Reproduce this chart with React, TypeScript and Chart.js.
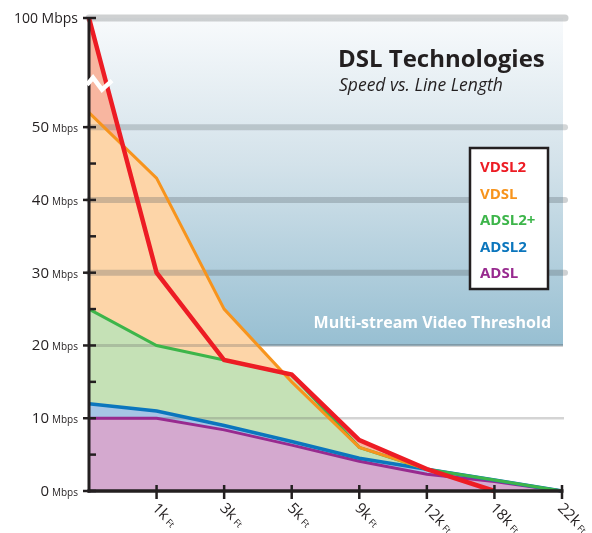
import React, { useEffect, useRef } from 'react';
import { Chart, registerables } from 'chart.js';

Chart.register(...registerables);

// ---- data ----
const categories = ['0', '1k', '3k', '5k', '9k', '12k', '18k', '22k'];
const vdsl2 = [100, 30, 18, 16, 7, 3, 0, null];
const vdsl = [52, 43, 25, 15, 6, 3, null, null];
const adsl2plus = [25, 20, 18, 16, 6, 3, 1.5, 0];
const adsl2 = [12, 11, 9, 6.8, 4.5, 3, 1.5, 0];
const adsl = [10, 10, 8.4, 6.3, 4.1, 2.3, 1.3, 0];
const seriesNames = ['VDSL2', 'VDSL', 'ADSL2+', 'ADSL2', 'ADSL'];
const yMajorTicks = [0, 10, 20, 30, 40, 50, 100];
const yMinorTicks = [5, 15, 25, 35, 45];
const thresholdValue = 20;
const breakValue = 60;
const titleText = 'DSL Technologies';
const subtitleText = 'Speed vs. Line Length';
const thresholdText = 'Multi-stream Video Threshold';

// ---- styles ----
const lineColors = ['#ed1c24', '#f7941d', '#3db54a', '#0b76bd', '#982a8f'];
const fillColors = ['#f8b6a0', '#fdd5a8', '#c5e1b6', '#a6c5e6', '#d4a9cf'];
const lineWidths = [4.5, 3, 3, 3.5, 3];
const FONT = '"Open Sans", Lato, sans-serif';
const INK = '#231f20';

// axis break: linear up to 55, compressed above (100 -> 65)
const compress = (v: number | null) => (v == null ? null : v <= 55 ? v : 55 + (v - 55) * (10 / 45));

export default function App() {
  const ref = useRef<HTMLCanvasElement>(null);

  useEffect(() => {
    const canvas = ref.current;
    if (!canvas) return;
    const seriesData = [vdsl2, vdsl, adsl2plus, adsl2, adsl];

    const lineSets = seriesData.map((d, i) => ({
      label: seriesNames[i],
      data: d.map(compress),
      borderColor: lineColors[i],
      borderWidth: lineWidths[i],
      backgroundColor: 'rgba(0,0,0,0)',
      fill: false,
      pointRadius: 0,
      tension: 0,
      borderJoinStyle: 'miter' as const,
      clip: false as any,
    }));
    const fillOrder = [4, 3, 2, 1, 0];
    const fillSets = fillOrder.map((i) => ({
      label: seriesNames[i] + ' area',
      data: seriesData[i].map(compress),
      borderColor: 'rgba(0,0,0,0)',
      borderWidth: 1,
      backgroundColor: fillColors[i],
      fill: 'origin',
      pointRadius: 0,
      tension: 0,
      clip: false as any,
    }));

    const decor = {
      id: 'decor',
      beforeDatasetsDraw(chart: any) {
        const { ctx, chartArea, scales } = chart;
        const y = scales.y;
        const top = y.getPixelForValue(compress(100));
        const bot = y.getPixelForValue(thresholdValue);
        ctx.save();
        const g = ctx.createLinearGradient(0, top, 0, bot);
        g.addColorStop(0, '#f8fafc');
        g.addColorStop(0.45, '#d3e2ea');
        g.addColorStop(1, '#97bfd2');
        ctx.fillStyle = g;
        ctx.fillRect(chartArea.left, top, chartArea.right - chartArea.left + 1, bot - top);
        ctx.fillStyle = '#7ea2b5';
        ctx.fillRect(chartArea.left, bot - 1, chartArea.right - chartArea.left + 1, 1);
        ctx.restore();
      },
      afterDatasetDraw(chart: any, args: any) {
        if (args.index !== 5) return;
        const { ctx, chartArea, scales } = chart;
        const y = scales.y;
        ctx.save();
        const drawH = (v: number, w: number, color: string, ext: number, cap: CanvasLineCap) => {
          const py = y.getPixelForValue(compress(v));
          ctx.beginPath();
          ctx.lineCap = cap;
          ctx.lineWidth = w;
          ctx.strokeStyle = color;
          ctx.moveTo(chartArea.left, py);
          ctx.lineTo(chartArea.right + ext, py);
          ctx.stroke();
        };
        drawH(100, 7, 'rgba(160,163,166,0.5)', 3, 'round');
        drawH(50, 6, 'rgba(80,90,96,0.25)', 3, 'round');
        drawH(40, 6, 'rgba(80,90,96,0.28)', 3, 'round');
        drawH(30, 6, 'rgba(80,90,96,0.28)', 3, 'round');
        drawH(20, 3, 'rgba(100,100,100,0.28)', 1, 'butt');
        drawH(10, 2.5, 'rgba(100,100,100,0.28)', 2, 'butt');
        ctx.restore();
      },
      afterDatasetsDraw(chart: any) {
        const { ctx, chartArea, scales } = chart;
        const x = scales.x;
        const y = scales.y;
        ctx.save();
        // axes
        ctx.strokeStyle = INK;
        ctx.lineCap = 'butt';
        ctx.lineWidth = 3;
        ctx.beginPath();
        ctx.moveTo(chartArea.left, y.getPixelForValue(compress(100)));
        ctx.lineTo(chartArea.left, chartArea.bottom + 1.5);
        ctx.stroke();
        ctx.lineWidth = 3.5;
        ctx.beginPath();
        ctx.moveTo(chartArea.left - 1.5, chartArea.bottom);
        ctx.lineTo(chartArea.right + 1.5, chartArea.bottom);
        ctx.stroke();
        // y ticks
        ctx.lineWidth = 2.5;
        yMajorTicks.forEach((v) => {
          const py = y.getPixelForValue(compress(v));
          ctx.beginPath();
          ctx.moveTo(chartArea.left - 6, py);
          ctx.lineTo(chartArea.left + 7, py);
          ctx.stroke();
        });
        yMinorTicks.forEach((v) => {
          const py = y.getPixelForValue(compress(v));
          ctx.beginPath();
          ctx.moveTo(chartArea.left, py);
          ctx.lineTo(chartArea.left + 7, py);
          ctx.stroke();
        });
        // x ticks
        categories.forEach((_, i) => {
          if (i === 0) return;
          const px = x.getPixelForValue(i);
          ctx.beginPath();
          ctx.moveTo(px, chartArea.bottom - 6);
          ctx.lineTo(px, chartArea.bottom + 8);
          ctx.stroke();
        });
        // axis break
        const by = y.getPixelForValue(compress(breakValue));
        ctx.strokeStyle = '#ffffff';
        ctx.lineWidth = 4.5;
        ctx.lineJoin = 'miter';
        ctx.beginPath();
        ctx.moveTo(chartArea.left - 2, by + 2);
        ctx.lineTo(chartArea.left + 4, by - 5);
        ctx.lineTo(chartArea.left + 13, by + 7);
        ctx.lineTo(chartArea.left + 23, by - 2);
        ctx.stroke();

        // y labels
        ctx.fillStyle = INK;
        ctx.textBaseline = 'alphabetic';
        yMajorTicks.forEach((v) => {
          const py = y.getPixelForValue(compress(v)) + 5;
          const right = chartArea.left - 11;
          if (v === 100) {
            ctx.font = `14px ${FONT}`;
            ctx.textAlign = 'right';
            ctx.fillText(`${v} Mbps`, right, py);
          } else {
            ctx.font = `10px ${FONT}`;
            ctx.textAlign = 'right';
            ctx.fillText('Mbps', right, py);
            const w = ctx.measureText('Mbps').width;
            ctx.font = `15px ${FONT}`;
            ctx.fillText(String(v), right - w - 3, py);
          }
        });
        // x labels
        categories.forEach((c, i) => {
          if (i === 0) return;
          const px = x.getPixelForValue(i);
          ctx.save();
          ctx.translate(px - 5, chartArea.bottom + 18);
          ctx.rotate(Math.PI / 4);
          ctx.textAlign = 'left';
          ctx.font = `15px ${FONT}`;
          ctx.fillText(c, 0, 0);
          const w = ctx.measureText(c).width;
          ctx.font = `9px ${FONT}`;
          ctx.fillText('Ft', w + 3, 0);
          ctx.restore();
        });

        // threshold text
        ctx.fillStyle = '#ffffff';
        ctx.font = `bold 16px ${FONT}`;
        ctx.textAlign = 'right';
        ctx.fillText(thresholdText, chartArea.right - 11, y.getPixelForValue(thresholdValue) - 17);

        // title
        ctx.fillStyle = INK;
        ctx.textAlign = 'left';
        ctx.font = `bold 24px ${FONT}`;
        ctx.fillText(titleText, 338, 67);
        ctx.font = `italic 17.5px ${FONT}`;
        ctx.fillText(subtitleText, 339, 91);

        // legend
        const lx = 470, ly = 148, lw = 78, lh = 141;
        ctx.fillStyle = '#ffffff';
        ctx.fillRect(lx, ly, lw, lh);
        ctx.strokeStyle = INK;
        ctx.lineWidth = 2.5;
        ctx.strokeRect(lx, ly, lw, lh);
        ctx.font = `bold 15px ${FONT}`;
        seriesNames.forEach((n, i) => {
          ctx.fillStyle = lineColors[i];
          ctx.fillText(n, lx + 10, ly + 24 + i * 26.5);
        });
        ctx.restore();
      },
    };

    const chart = new Chart(canvas, {
      type: 'line',
      data: { labels: categories, datasets: [...lineSets, ...fillSets] as any },
      options: {
        responsive: false,
        animation: false,
        layout: { padding: { left: 89, top: 18, right: 30, bottom: 42 } },
        scales: {
          x: { type: 'category', display: false, offset: false },
          y: { type: 'linear', display: false, min: 0, max: compress(100) as number },
        },
        plugins: {
          legend: { display: false },
          tooltip: { enabled: false },
          title: { display: false },
        },
      },
      plugins: [decor],
    });
    return () => chart.destroy();
  }, []);

  return (
    <div style={{ position: 'fixed', left: 0, top: 0, width: 592, height: 533, background: '#ffffff' }}>
      <canvas ref={ref} width={592} height={533} style={{ display: 'block', width: 592, height: 533 }} />
    </div>
  );
}
